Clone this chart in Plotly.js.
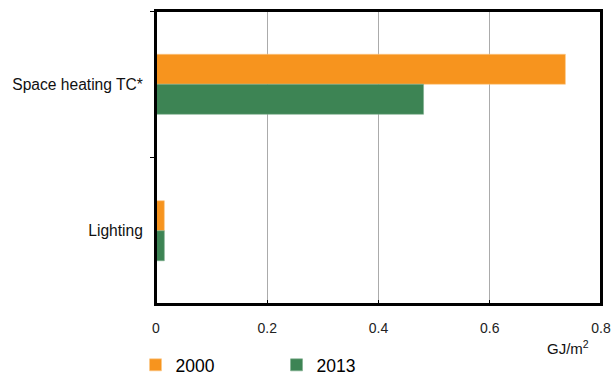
<!DOCTYPE html>
<html>
<head>
<meta charset="utf-8">
<script src="https://cdn.plot.ly/plotly-3.0.1.min.js"></script>
<style>html,body{margin:0;padding:0;background:#fff;}#chart{width:611px;height:375px;}</style>
</head>
<body>
<div id="chart"></div>
<script>
var categories = ["Space heating TC*", "Lighting"];
var seriesNames = ["2000", "2013"];
var values2000 = [0.736, 0.015];
var values2013 = [0.481, 0.015];
var xTickVals = [0, 0.2, 0.4, 0.6, 0.8];
var xTickText = ["0", "0.2", "0.4", "0.6", "0.8"];
var unitLabel = "GJ/m<sup>2</sup>";

var colors = ["#F7941E", "#3D8454"];
var fontFam = "Liberation Sans, Arial, sans-serif";

var traces = [
  {type: "bar", orientation: "h", name: seriesNames[0], y: categories, x: values2000,
   marker: {color: colors[0], line: {color: "#FBC98A", width: 0.6}}, hoverinfo: "x"},
  {type: "bar", orientation: "h", name: seriesNames[1], y: categories, x: values2013,
   marker: {color: colors[1], line: {color: "#7FAE8F", width: 0.6}}, hoverinfo: "x"}
];

var layout = {
  width: 611, height: 375,
  margin: {l: 156, r: 10, t: 11, b: 71, pad: 0, autoexpand: false},
  paper_bgcolor: "#fff", plot_bgcolor: "#fff",
  barmode: "group", bargap: 0.59, bargroupgap: 0,
  font: {family: fontFam, color: "#000"},
  xaxis: {
    range: [0, 0.8], tickvals: xTickVals, ticktext: xTickText,
    showgrid: true, gridcolor: "#ABABAB", gridwidth: 1, zeroline: false,
    showline: true, linecolor: "#000", linewidth: 2, mirror: true,
    ticks: "inside", ticklen: 4, tickcolor: "#000", tickwidth: 1,
    tickfont: {size: 14, color: "#222"}, ticklabelstandoff: 10, automargin: false
  },
  yaxis: {
    autorange: "reversed", type: "category",
    showgrid: false, zeroline: false,
    showline: true, linecolor: "#000", linewidth: 2, mirror: true,
    ticks: "outside", tickson: "boundaries", ticklen: 4, tickcolor: "#000", tickwidth: 1,
    tickfont: {size: 15.6, color: "#111"}, ticklabelstandoff: 8, automargin: false
  },
  shapes: [
    {type: "rect", xref: "paper", yref: "paper", x0: 0, x1: 1, y0: 0, y1: 1,
     line: {color: "#000", width: 2}, fillcolor: "rgba(0,0,0,0)", layer: "above"}
  ],
  showlegend: true,
  legend: {
    orientation: "h", xref: "container", yref: "container",
    x: 0.2218, xanchor: "left", y: 0.0267, yanchor: "middle",
    font: {size: 17.5, color: "#000"}, entrywidth: 96, entrywidthmode: "pixels",
    itemclick: false, bgcolor: "rgba(0,0,0,0)", borderwidth: 0
  },
  annotations: [
    {text: unitLabel, xref: "paper", yref: "paper", x: 0.978, y: -0.150, xanchor: "right", yanchor: "middle",
     showarrow: false, font: {size: 15, color: "#111"}}
  ]
};

Plotly.newPlot("chart", traces, layout, {displayModeBar: false, staticPlot: true});
</script>
</body>
</html>
